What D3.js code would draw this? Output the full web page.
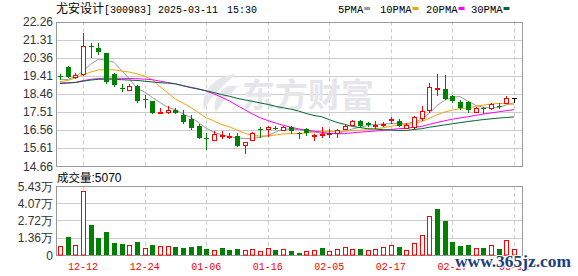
<!DOCTYPE html>
<html>
<head>
<meta charset="utf-8">
<script src="https://cdn.jsdelivr.net/npm/d3@7"></script>
<style>
  body { margin: 0; background: #fff; }
  svg { display: block; }
</style>
</head>
<body>
<div id="chart"></div>
<script>
// trading days shown on the chart
const dates = ["12-09","12-10","12-11","12-12","12-13","12-16","12-17","12-18","12-19","12-20",
  "12-23","12-24","12-25","12-26","12-27","12-30","12-31","01-02","01-03","01-06",
  "01-07","01-08","01-09","01-10","01-13","01-14","01-15","01-16","01-17","01-20",
  "01-21","01-22","01-23","01-24","01-27","02-05","02-06","02-07","02-10","02-11",
  "02-12","02-13","02-14","02-17","02-18","02-19","02-20","02-21","02-24","02-25",
  "02-26","02-27","02-28","03-03","03-04","03-05","03-06","03-07","03-10","03-11"];

const opens = [19.38,19.88,19.35,19.50,20.98,20.88,20.62,19.51,18.78,18.65,
  18.88,18.16,18.09,17.47,17.50,17.59,17.36,17.13,16.78,16.14,
  16.04,16.25,16.21,16.25,15.76,16.04,16.58,16.61,16.65,16.57,
  16.71,16.38,16.61,16.30,16.31,16.35,16.39,16.61,16.83,17.01,
  16.92,16.82,16.87,17.09,17.01,16.66,16.71,17.16,17.58,18.75,
  18.71,18.34,18.03,18.04,17.50,17.70,17.69,17.84,17.97,18.23];
const highs = [19.51,19.93,19.55,21.65,21.12,21.12,20.62,19.55,18.97,18.99,
  18.92,18.37,18.09,17.71,17.79,17.71,17.62,17.32,16.88,16.39,
  16.48,16.48,16.42,16.39,15.92,16.43,16.71,16.74,16.74,16.77,
  16.78,16.46,16.66,16.32,16.72,16.61,16.60,16.88,17.10,17.10,
  16.95,17.01,16.99,17.22,17.13,16.92,17.27,17.83,19.05,19.51,
  19.46,18.38,18.15,18.10,17.75,17.78,17.95,17.97,18.32,18.23];
const lows = [19.23,19.33,19.29,19.46,20.39,20.53,19.05,18.85,18.62,18.65,
  18.00,17.76,17.43,17.47,17.43,17.43,16.92,16.61,16.12,15.55,
  16.01,16.14,16.14,15.73,15.37,16.01,16.19,16.25,16.58,16.55,
  16.39,16.13,16.30,16.01,16.20,16.21,16.21,16.58,16.80,16.71,
  16.74,16.66,16.74,16.92,16.74,16.66,16.68,17.10,17.48,18.42,
  18.19,18.05,17.66,17.51,17.48,17.45,17.66,17.71,17.95,18.00];
const closes = [19.37,19.35,19.45,20.98,20.93,20.67,19.09,18.93,18.76,18.87,
  18.06,18.14,17.47,17.49,17.62,17.43,16.95,16.66,16.14,16.12,
  16.36,16.28,16.23,15.73,15.92,16.39,16.56,16.71,16.63,16.69,
  16.48,16.36,16.40,16.31,16.33,16.37,16.57,16.78,17.01,16.78,
  16.82,16.84,16.89,17.11,16.78,16.83,17.24,17.55,18.81,18.77,
  18.21,18.08,17.69,17.58,17.72,17.68,17.92,17.82,18.23,18.23];

// volume in 万 shares, and whether the bar is an "up" bar
const volumes = [0.71,1.42,0.79,5.04,2.36,1.36,1.81,0.97,0.87,0.79,
  1.02,0.55,0.79,0.71,0.71,0.63,0.55,0.63,0.71,0.47,
  0.37,0.55,0.39,0.47,0.37,0.45,0.29,0.52,0.39,0.45,
  0.31,0.18,0.31,0.37,0.55,0.31,0.45,0.60,0.45,0.47,
  0.37,0.45,0.60,0.76,0.63,0.42,0.92,1.55,3.07,3.62,
  2.68,1.05,0.71,0.79,0.52,0.55,0.76,0.47,1.15,0.507];
const volUp = [1,0,1,1,0,0,0,0,0,1, 0,1,0,1,1,0,0,0,0,0,
  1,0,0,0,1,1,1,1,0,1, 0,0,1,1,0,1,1,1,1,0,
  1,1,1,1,0,1,1,1,1,0, 0,0,0,0,1,0,1,0,1,1];

// moving averages
const ma5 = [19.22,19.21,19.36,19.65,20.02,20.28,20.22,20.12,19.68,19.26,
  18.74,18.55,18.26,18.00,17.75,17.62,17.39,17.22,16.95,16.65,
  16.43,16.30,16.21,16.14,16.10,16.11,16.17,16.26,16.44,16.60,
  16.61,16.57,16.51,16.45,16.37,16.35,16.39,16.47,16.61,16.70,
  16.79,16.85,16.87,16.89,16.89,16.89,16.97,17.10,17.44,17.84,
  18.12,18.28,18.31,18.07,17.86,17.75,17.72,17.74,17.87,17.98];
const ma10 = [19.09,19.16,19.29,19.46,19.60,19.71,19.72,19.72,19.66,19.60,
  19.51,19.39,19.19,18.84,18.51,18.18,17.97,17.74,17.47,17.20,
  17.03,16.84,16.72,16.55,16.38,16.27,16.23,16.24,16.29,16.35,
  16.36,16.37,16.39,16.45,16.49,16.48,16.48,16.49,16.53,16.54,
  16.57,16.62,16.67,16.75,16.80,16.84,16.91,16.99,17.17,17.36,
  17.50,17.60,17.68,17.72,17.80,17.86,17.92,17.95,17.93,17.90];
const ma20 = [19.02,19.04,19.06,19.15,19.22,19.26,19.28,19.28,19.27,19.26,
  19.25,19.23,19.20,19.12,19.05,18.98,18.88,18.80,18.72,18.60,
  18.45,18.28,18.08,17.85,17.62,17.40,17.20,17.05,16.92,16.80,
  16.70,16.61,16.55,16.50,16.43,16.38,16.36,16.36,16.41,16.44,
  16.47,16.50,16.53,16.58,16.62,16.65,16.70,16.74,16.85,16.95,
  17.04,17.12,17.19,17.25,17.32,17.39,17.45,17.51,17.57,17.62];
const ma30 = [19.00,19.02,19.05,19.12,19.18,19.22,19.23,19.22,19.20,19.18,
  19.16,19.12,19.08,19.04,19.02,18.98,18.88,18.78,18.70,18.62,
  18.52,18.42,18.33,18.22,18.14,18.06,17.98,17.90,17.80,17.72,
  17.65,17.55,17.42,17.32,17.25,17.10,16.95,16.85,16.74,16.68,
  16.62,16.60,16.57,16.55,16.53,16.53,16.58,16.62,16.70,16.76,
  16.82,16.88,16.94,17.00,17.05,17.10,17.14,17.18,17.21,17.24];

const priceTicks = [14.66,15.61,16.56,17.51,18.46,19.41,20.36,21.31,22.26];
const volTicks = [0,1.36,2.72,4.07,5.43];
const volTickLabels = ["0","1.36万","2.72万","4.07万","5.43万"];
const dateTicks = ["12-12","12-24","01-06","01-16","02-05","02-17","02-27","03-11"];

const maSeries = [
  { name: "5PMA", values: ma5, color: "#999999" },
  { name: "10PMA", values: ma10, color: "#f0a30a" },
  { name: "20PMA", values: ma20, color: "#ff00ff" },
  { name: "30PMA", values: ma30, color: "#006633" }
];

const W = 578, H = 276;
const left = 56, right = 522;
const pTop = 21.5, pBottom = 166;
const vTop = 186, vBottom = 255;
const UP = "#ff0000", DOWN = "#008000";
const mono = "'Liberation Mono', 'DejaVu Sans Mono', monospace";
const sans = "'Liberation Sans', Arial, sans-serif";
const cjk = "'Noto Sans CJK SC', sans-serif";

const x = d3.scalePoint().domain(dates).range([60, 514]);
const y = d3.scaleLinear().domain([14.66, 22.26]).range([pBottom, pTop]);
const yv = d3.scaleLinear().domain([0, 5.43]).range([vBottom, vTop]);
const px = v => Math.round(v) + 0.5;

const svg = d3.select("#chart").append("svg")
  .attr("width", W)
  .attr("height", H);

svg.append("rect").attr("width", W).attr("height", H).attr("fill", "#fff");

// grids
function drawGrid(top, bottom, scale, ticks) {
  const g = svg.append("g");
  g.selectAll("line.h")
    .data(ticks.slice(1, -1))
    .join("line")
    .attr("x1", left).attr("x2", right)
    .attr("y1", d => px(scale(d))).attr("y2", d => px(scale(d)))
    .attr("stroke", "#cccccc");
  g.selectAll("line.v")
    .data(dateTicks)
    .join("line")
    .attr("x1", d => px(x(d))).attr("x2", d => px(x(d)))
    .attr("y1", top).attr("y2", bottom)
    .attr("stroke", "#cccccc")
    .attr("stroke-dasharray", "4,3");
  g.append("rect")
    .attr("x", left + 0.5).attr("y", Math.round(top) + 0.5)
    .attr("width", right - left).attr("height", Math.round(bottom) - Math.round(top))
    .attr("fill", "none")
    .attr("stroke", "#999999");
}
drawGrid(pTop, pBottom, y, priceTicks);
drawGrid(vTop, vBottom, yv, volTicks);

// y labels
svg.append("g").selectAll("text")
  .data(priceTicks)
  .join("text")
  .attr("x", 53)
  .attr("y", d => y(d) + 4.5)
  .attr("text-anchor", "end")
  .style("font", `12px ${sans}`)
  .attr("fill", "#333")
  .text(d => d.toFixed(2));

svg.append("g").selectAll("text")
  .data(volTicks)
  .join("text")
  .attr("x", 53)
  .attr("y", d => yv(d) + 4.5)
  .attr("text-anchor", "end")
  .attr("fill", "#333")
  .style("font", `12px ${sans}`)
  .text((d, i) => volTickLabels[i]);

// x labels
svg.append("g").selectAll("text")
  .data(dateTicks)
  .join("text")
  .attr("x", d => x(d))
  .attr("y", 270)
  .attr("text-anchor", "middle")
  .attr("fill", "#ff0000")
  .style("font", `10px ${mono}`)
  .text(d => d);

// watermark logo
const wm = svg.append("g").attr("fill", "#e6e6ea");
wm.append("path")
  .attr("d", "M236,74 C214,76 200,92 204,110 C210,98 220,88 236,74 Z M228,86 C216,94 212,104 216,112 C222,102 228,96 238,86 Z");
wm.append("text")
  .attr("x", 242).attr("y", 107)
  .style("font", `bold 33px ${cjk}`)
  .text("东方财富");

// moving averages
const line = d3.line()
  .x((d, i) => x(dates[i]))
  .y(d => y(d));

svg.append("g").selectAll("path")
  .data(maSeries)
  .join("path")
  .attr("d", d => line(d.values))
  .attr("fill", "none")
  .attr("stroke", d => d.color)
  .attr("stroke-width", 1);

// candles
const candles = svg.append("g").selectAll("g")
  .data(dates.map((d, i) => ({ date: d, o: opens[i], h: highs[i], l: lows[i], c: closes[i] })))
  .join("g");

const candleColor = d => d.c > d.o ? UP : d.c < d.o ? DOWN : "#000";

candles.append("line")
  .attr("x1", d => px(x(d.date))).attr("x2", d => px(x(d.date)))
  .attr("y1", d => Math.round(y(d.h))).attr("y2", d => Math.round(y(d.l)) + 1)
  .attr("stroke", candleColor);

candles.append("rect")
  .attr("x", d => d.c > d.o ? px(x(d.date)) - 2 : Math.round(x(d.date)) - 2)
  .attr("y", d => {
    const top = Math.round(y(Math.max(d.o, d.c)));
    return d.c > d.o ? top + 0.5 : top;
  })
  .attr("width", d => d.c > d.o ? 4 : 5)
  .attr("height", d => {
    const hgt = Math.round(y(Math.min(d.o, d.c))) - Math.round(y(Math.max(d.o, d.c)));
    return d.c > d.o ? Math.max(hgt, 1) : Math.max(hgt, 1);
  })
  .attr("fill", d => d.c > d.o ? "#fff" : candleColor(d))
  .attr("stroke", d => d.c > d.o ? UP : "none");

// volume bars
svg.append("g").selectAll("rect")
  .data(volumes)
  .join("rect")
  .attr("x", (d, i) => volUp[i] ? px(x(dates[i])) - 2 : Math.round(x(dates[i])) - 2)
  .attr("y", (d, i) => Math.round(yv(d)) + (volUp[i] ? 0.5 : 0))
  .attr("width", (d, i) => volUp[i] ? 4 : 5)
  .attr("height", (d, i) => Math.round(vBottom) - Math.round(yv(d)) - (volUp[i] ? 0.5 : 0))
  .attr("fill", (d, i) => volUp[i] ? "#fff" : DOWN)
  .attr("stroke", (d, i) => volUp[i] ? UP : "none");

// title
const title = svg.append("g").attr("fill", "#000");
title.append("text").attr("x", 56).attr("y", 13)
  .style("font", `12px ${cjk}`).text("尤安设计");
title.append("text").attr("x", 104).attr("y", 13)
  .style("font", `10px ${mono}`).text("[300983]");
title.append("text").attr("x", 158).attr("y", 13)
  .style("font", `10px ${mono}`).text("2025-03-11");
title.append("text").attr("x", 227).attr("y", 13)
  .style("font", `10px ${mono}`).text("15:30");

// legend
const legendX = [338, 380, 426, 471];
const legend = svg.append("g").selectAll("g")
  .data(maSeries)
  .join("g")
  .attr("transform", (d, i) => `translate(${legendX[i]},0)`);
legend.append("text")
  .attr("y", 13)
  .style("font", `10.5px ${mono}`)
  .attr("fill", "#000")
  .text(d => d.name);
legend.append("rect")
  .attr("x", d => d.name.length * 6.3 + 1)
  .attr("y", 7)
  .attr("width", 6)
  .attr("height", 3)
  .attr("fill", d => d.color);

// volume caption
const cap = svg.append("text").attr("x", 57).attr("y", 182).attr("fill", "#000");
cap.append("tspan").style("font", `11.5px ${cjk}`).text("成交量");
cap.append("tspan").style("font", `12px ${sans}`).text(":5070");

// site watermark
svg.append("text")
  .attr("x", 455).attr("y", 267)
  .attr("textLength", 116)
  .attr("lengthAdjust", "spacingAndGlyphs")
  .style("font", `bold 17px 'Liberation Serif', serif`)
  .attr("fill", "#1b3f7a")
  .attr("stroke", "#fff")
  .attr("stroke-width", 2)
  .attr("paint-order", "stroke")
  .text("www.365jz.com");
</script>
</body>
</html>
